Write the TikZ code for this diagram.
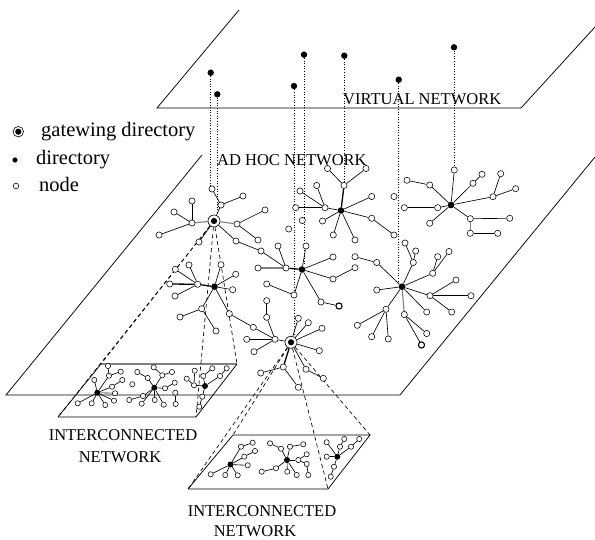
\documentclass[tikz,border=0pt]{standalone}
\usepackage{fontspec}
\setmainfont{Liberation Serif}
\usetikzlibrary{backgrounds}
\tikzset{
 nd/.style={circle,draw,fill=white,inner sep=0pt,minimum size=6.2pt,line width=0.55pt},
 sn/.style={nd,minimum size=5.2pt},
 bn/.style={nd,line width=1.1pt},
 dr/.style={circle,fill=black,inner sep=0pt,minimum size=6.6pt},
 sd/.style={dr,minimum size=6pt},
 gw/.style={circle,draw,fill=white,inner sep=0pt,minimum size=12pt,line width=0.6pt,
   path picture={\fill[black] (path picture bounding box.center) circle (3.1pt);}},
 vd/.style={circle,fill=black,inner sep=0pt,minimum size=6.4pt},
 ln/.style={line width=0.65pt},
 gl/.style={line width=1.1pt,gray},
 tk/.style={line width=1.3pt},
 dl/.style={dash pattern=on 1pt off 1.6pt,line width=0.6pt},
 ds/.style={dash pattern=on 4pt off 3pt,line width=0.65pt},
 pl/.style={line width=0.75pt},
 lbl/.style={inner sep=0pt,font=\fontsize{16.5}{19}\selectfont},
 lgd/.style={inner sep=0pt,anchor=base west,font=\fontsize{20.5}{24}\selectfont},
}
\begin{document}
\begin{tikzpicture}[x=1pt,y=-1pt]
\useasboundingbox (0,0) rectangle (595,540);
% planes
\coordinate (A1) at (6,395); \coordinate (A2) at (202,155);
\coordinate (A3) at (400,395); \coordinate (A4) at (595,157);
\coordinate (V1) at (157,108); \coordinate (V2) at (239,10);
\coordinate (V3) at (521,108); \coordinate (V4) at (595,27);
\coordinate (I1) at (58,417); \coordinate (I2) at (101,364);
\coordinate (I3) at (237,364); \coordinate (I4) at (196,417);
\coordinate (J1) at (188,489); \coordinate (J2) at (233,435);
\coordinate (J3) at (370,435); \coordinate (J4) at (328,489);
% labels
\node[lbl,anchor=base west] (tv) at (343,105) {VIRTUAL NETWORK};
\node[lbl,anchor=base west] (ta) at (217,165.5) {AD HOC NETWORK};
\node[lbl,anchor=base] (ti1) at (123,440.5) {INTERCONNECTED};
\node[lbl,anchor=base] (ti2) at (120,462.5) {NETWORK};
\node[lbl,anchor=base] (tj1) at (262,516) {INTERCONNECTED};
\node[lbl,anchor=base] (tj2) at (255,536.5) {NETWORK};
% legend
\node[gw,minimum size=10.5pt] (lg1) at (18.3,131.7) {};
\node[dr,minimum size=5.2pt] (lg2) at (15,160) {};
\node[nd,minimum size=5.6pt] (lg3) at (16,186) {};
\node[lgd] (lt1) at (41,136.7) {gatewing directory};
\node[lgd] (lt2) at (36,164.3) {directory};
\node[lgd] (lt3) at (39,191.7) {node};
% virtual network dots
\node[vd] (v1) at (210.7,72.7) {};
\node[vd] (v2) at (217.3,94.3) {};
\node[vd] (v3) at (294,86) {};
\node[vd] (v4) at (304,54.7) {};
\node[vd] (v5) at (344.3,55.7) {};
\node[vd] (v6) at (398.7,79.7) {};
\node[vd] (v7) at (454,47.3) {};
% ---- G1 cluster
\node[gw] (G1) at (214,221) {};
\node[nd] (n1) at (192,223) {};
\node[nd] (n2) at (192,201) {};
\node[nd] (n3) at (174,212) {};
\node[nd] (n4) at (159,235) {};
\node[nd] (n5) at (237,224) {};
\node[nd] (n6) at (265,210) {};
\node[nd] (n7) at (258,240) {};
\node[nd] (n8) at (221,205) {};
\node[nd] (n9) at (212,189) {};
\node[nd] (n10) at (243,196) {};
\node[nd] (n11) at (236,241) {};
\node[nd] (n12) at (261,251) {};
\node[nd] (n13) at (199,242) {};
% ---- D2 cluster
\node[dr] (D2) at (302,269.5) {};
\node[nd] (m1) at (286,268) {};
\node[nd] (m2) at (258,268) {};
\node[nd] (m3) at (278,246) {};
\node[nd] (m4) at (306,246) {};
\node[nd] (m5) at (333,257) {};
\node[nd] (m6) at (333,279) {};
\node[nd] (m7) at (294,295) {};
\node[nd] (m8) at (321,302) {};
\node[bn] (m9) at (339,306) {};
\node[nd] (m10) at (266.7,284) {};
\node[nd] (x1) at (355,267.7) {};
\node[nd] (x2) at (355,256.7) {};
% ---- D3 cluster
\node[dr] (D3) at (341,210.5) {};
\node[nd] (q1) at (344,185.5) {};
\node[nd] (q2) at (327.5,168.5) {};
\node[nd] (q3) at (366,168.5) {};
\node[nd] (q4) at (325,207.7) {};
\node[nd] (q5) at (300,191) {};
\node[nd] (q6) at (316.7,185.5) {};
\node[nd] (q7) at (295.7,207.7) {};
\node[nd] (q8) at (322.5,221) {};
\node[nd] (q9) at (333.3,235) {};
\node[nd] (q10) at (355,240) {};
\node[nd] (q11) at (371.7,196.5) {};
\node[nd] (q12) at (371.7,218.3) {};
\node[nd] (q13) at (394,235) {};
\node[nd] (q14) at (394,196.5) {};
\node[nd] (q15) at (302.3,220.5) {};
\node[nd] (q16) at (288.7,229) {};
% ---- D1 cluster
\node[dr] (D1) at (214.5,286.7) {};
\node[nd] (s1) at (197.7,284.3) {};
\node[nd] (s2) at (169.7,284) {};
\node[nd] (s3) at (175.3,269.3) {};
\node[nd] (s4) at (189,265) {};
\node[nd] (s5) at (175,296) {};
\node[nd] (s6) at (221,264.7) {};
\node[nd] (s7) at (235.7,274.3) {};
\node[nd] (s8) at (232.7,289.7) {};
\node[nd] (s9) at (201.7,308.7) {};
\node[nd] (s10) at (180,317) {};
\node[nd] (s11) at (216,331) {};
\node[nd] (s12) at (229.3,313.7) {};
\node[nd] (s13) at (253.3,327.3) {};
% ---- G2 cluster
\node[gw] (G2) at (291,342.3) {};
\node[nd] (t1) at (275,339.3) {};
\node[nd] (t3) at (246.7,339.3) {};
\node[nd] (t4) at (254,351.7) {};
\node[nd] (t5) at (266.7,317.3) {};
\node[nd] (t6) at (266.7,300.7) {};
\node[nd] (t7) at (298.3,318.3) {};
\node[nd] (t8) at (308.3,322.7) {};
\node[nd] (t9) at (322,328.3) {};
\node[nd] (t10) at (319.3,350.7) {};
\node[nd] (t11) at (306,369.3) {};
\node[nd] (t12) at (323.3,378.3) {};
\node[nd] (t13) at (283.3,367) {};
\node[nd] (t14) at (260.7,373) {};
\node[nd] (t15) at (298.3,387.3) {};
% ---- D4 cluster
\node[dr] (D4) at (402,286.7) {};
\node[nd] (p1) at (376.7,262.5) {};
\node[nd] (p2) at (405,243) {};
\node[nd] (p3) at (415.7,251) {};
\node[nd] (p4) at (413.3,262.5) {};
\node[nd] (p5) at (432.7,273.3) {};
\node[nd] (p6) at (437.7,256.7) {};
\node[nd] (p7) at (449,251.5) {};
\node[nd] (p8) at (430,295.7) {};
\node[nd] (p9) at (456,280) {};
\node[nd] (p10) at (471,295.7) {};
\node[nd] (p11) at (451.7,312) {};
\node[nd] (p12) at (426.7,312) {};
\node[nd] (p13) at (404.3,314.5) {};
\node[nd] (p14) at (426.7,333.5) {};
\node[bn] (p15) at (421.5,345) {};
\node[nd] (p16) at (386,309.3) {};
\node[nd] (p17) at (357.3,325.3) {};
\node[nd] (p18) at (371.7,336.7) {};
\node[nd] (p19) at (388.3,339) {};
\node[nd] (p20) at (376.7,290) {};
% ---- D5 cluster
\node[dr] (D5) at (451,205) {};
\node[nd] (r1) at (454.3,170) {};
\node[nd] (r2) at (407,180.3) {};
\node[nd] (r3) at (429.7,185) {};
\node[nd] (r4) at (404.3,207.7) {};
\node[nd] (r5) at (437.7,207.7) {};
\node[nd] (r6) at (429.7,223.3) {};
\node[nd] (r7) at (473,183.3) {};
\node[nd] (r8) at (482,174.3) {};
\node[nd] (r9) at (493,196.7) {};
\node[nd] (r10) at (500.7,173.7) {};
\node[nd] (r11) at (515.7,188.7) {};
\node[nd] (r12) at (470.3,218.7) {};
\node[nd] (r13) at (509.7,218.3) {};
\node[nd] (r14) at (470.3,233.3) {};
\node[nd] (r15) at (497.7,233.3) {};
% ---- IN1
\node[sd] (a) at (97.3,392.7) {};
\node[sn] (a1) at (108,366) {};
\node[sn] (a2) at (109,375.7) {};
\node[sn] (a3) at (120.7,371.7) {};
\node[sn] (a4) at (94.3,380) {};
\node[sn] (a5) at (112,386.7) {};
\node[sn] (a6) at (122.3,380) {};
\node[sn] (a7) at (115,393.3) {};
\node[sn] (a8) at (114,400.7) {};
\node[sn] (a9) at (105.3,405) {};
\node[sn] (a10) at (91.7,403.3) {};
\node[sn] (a11) at (77.7,403.3) {};
\node[sd] (b) at (154.3,387.7) {};
\node[sn] (b1) at (137.3,372) {};
\node[sn] (b2) at (147.7,378) {};
\node[sn] (b3) at (153.7,367.3) {};
\node[sn] (b4) at (162.3,375.3) {};
\node[sn] (b5) at (172,372) {};
\node[sn] (b6) at (132.3,384.3) {};
\node[sn] (b7) at (165,388.3) {};
\node[sn] (b8) at (174.7,382.7) {};
\node[sn] (b9) at (175.3,392.7) {};
\node[sn] (b10) at (143,396) {};
\node[sn] (b11) at (129.3,400) {};
\node[sn] (b12) at (141.7,403.7) {};
\node[sn] (b13) at (154.7,400) {};
\node[sn] (b14) at (163.7,404.7) {};
\node[sn] (b15) at (175.7,404) {};
\node[sd] (c) at (205,386) {};
\node[sn] (c1) at (194.7,370.7) {};
\node[sn] (c2) at (186.7,378.7) {};
\node[sn] (c3) at (194,385.3) {};
\node[sn] (c4) at (203.3,376) {};
\node[sn] (c5) at (212.3,368.3) {};
\node[sn] (c6) at (220,376) {};
\node[sn] (c7) at (226.7,368.3) {};
\node[sn] (c8) at (202.3,396.7) {};
\node[sn] (c9) at (199.3,406.7) {};
% ---- IN2
\node[sd] (d) at (230.5,464.5) {};
\node[sn] (d1) at (241,446.7) {};
\node[sn] (d2) at (252.7,442.7) {};
\node[sn] (d3) at (244.3,456.7) {};
\node[sn] (d4) at (255,451) {};
\node[sn] (d5) at (247.7,465.3) {};
\node[sn] (d6) at (237.7,475.3) {};
\node[sn] (d7) at (225.3,475) {};
\node[sn] (d8) at (210.7,474.3) {};
\node[sd] (e) at (287,460) {};
\node[sn] (e1) at (270,443.3) {};
\node[sn] (e2) at (281,448.7) {};
\node[sn] (e3) at (290,446.7) {};
\node[sn] (e4) at (303.3,444.3) {};
\node[sn] (e5) at (298.3,460) {};
\node[sn] (e6) at (306.7,454.3) {};
\node[sn] (e7) at (306.7,464) {};
\node[sn] (e8) at (276,468.3) {};
\node[sn] (e9) at (261.7,471.7) {};
\node[sn] (e10) at (287.3,471.7) {};
\node[sn] (e11) at (296.7,475) {};
\node[sn] (e12) at (308.3,475) {};
\node[sd] (f) at (337.3,456.7) {};
\node[sn] (f1) at (326.7,442.3) {};
\node[sn] (f2) at (344.3,439) {};
\node[sn] (f3) at (340,446.7) {};
\node[sn] (f4) at (351,446.7) {};
\node[sn] (f5) at (359.3,439) {};
\node[sn] (f6) at (326.7,456.7) {};
\node[sn] (f7) at (334,466.7) {};
\node[sn] (f8) at (330.7,476.7) {};

\begin{pgfonlayer}{background}
% planes
\draw[pl] (A2) -- (A1) -- (A3) -- (A4);
\draw[pl] (V2) -- (V1) -- (V3) -- (V4);
\draw[pl] (I1) -- (I2);
\draw[gl] (I2) -- (I3);
\draw[pl] (I3) -- (I4) -- (I1);
\draw[pl] (J1) -- (J2) -- (J3) -- (J4) -- (J1);
% dotted verticals
\draw[dl] (v1) -- (v1 |- n9.north);
\draw[dl] (v2) -- (v2 |- G1.north);
\draw[dl] (v3) -- (v3 |- G2.north);
\draw[dl] (v4) -- (v4 |- D2.north);
\draw[dl,line width=1.3pt] (v5) -- (v5 |- q1.north);
\draw[dl] (v6) -- (v6 |- D4.north);
\draw[dl] (v7) -- (v7 |- r1.north);
% dashed projections
\foreach \k in {I1,I2,I3,I4} \draw[ds] (G1) -- (\k);
\foreach \k in {J1,J2,J3,J4} \draw[ds] (G2) -- (\k);
% edges
\foreach \p/\q in {n1/n2,n1/n3,n1/n4,n5/n6,n5/n7,G1/n8,n8/n9,n8/n10,G1/n11,n11/n12,G1/n13,n12/m1,
  m3/m1,D2/m4,D2/m5,D2/m6,D2/m7,D2/m8,m8/m9,m10/m7,m6/x1,x2/p1,p1/D4,
  D3/q4,q4/q5,q4/q6,q4/q7,D3/q8,D3/q9,D3/q10,D3/q11,D3/q12,q12/q13,q1/q2,q1/q3,
  s1/s3,s1/s4,s1/s5,D1/s6,D1/s7,D1/s8,D1/s9,s9/s10,s9/s11,D1/s12,s12/s13,s13/t1,t1/G2,
  t1/t3,t1/t4,t1/t5,t5/t6,G2/t7,G2/t8,G2/t9,G2/t10,G2/t11,t11/t12,t13/t14,t13/t15,
  D4/p4,p4/p2,p4/p3,D4/p5,p5/p6,p5/p7,D4/p8,p8/p9,p8/p10,p8/p11,D4/p12,p13/p14,p13/p15,
  D4/p16,p16/p17,p16/p18,p16/p19,D4/p20,
  D5/r1,r2/r3,r3/D5,r4/r5,r5/D5,r6/D5,r7/D5,r7/r8,r9/D5,r9/r10,r9/r11,r12/D5,r12/r13,r14/r15,
  a/a2,a2/a1,a2/a3,a/a4,a/a5,a5/a6,a/a8,a/a9,a/a10,a/a11,
  b1/b2,b2/b,b3/b4,b4/b5,b4/b,b/b7,b7/b8,b9/b15,b/b10,b10/b11,b/b12,b/b13,b/b14,
  c2/c3,c3/c,c1/c3,c4/c,c4/c5,c6/c,c6/c7,c8/c,c8/c9,
  d/d1,d1/d2,d/d3,d3/d4,d/d5,d/d6,d/d7,d/d8,
  e1/e2,e2/e,e3/e,e3/e4,e5/e,e5/e6,e5/e7,e8/e,e8/e9,e10/e,e11/e,e7/e12,
  f/f1,f/f3,f3/f2,f/f4,f4/f5,f/f6,f/f7,f7/f8}
  \draw[ln] (\p) -- (\q);
\foreach \p/\q in {G1/n1,G1/n5,m2/m1,D4/p13,r12/r14,a/a7}
  \draw[gl] (\p) -- (\q);
\foreach \p/\q in {D2/m1,D3/q1,D1/s1,s1/s2,G2/t13}
  \draw[tk] (\p) -- (\q);
\end{pgfonlayer}
\end{tikzpicture}
\end{document}
